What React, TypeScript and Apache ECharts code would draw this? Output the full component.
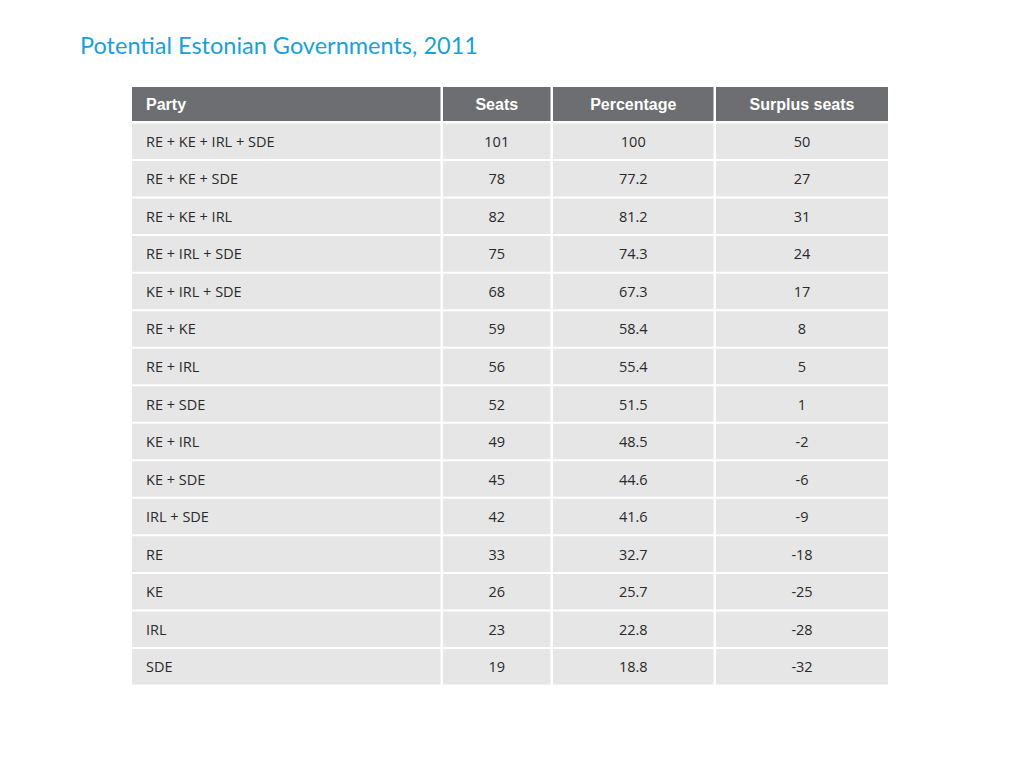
import React, { useEffect, useRef } from "react";
import * as echarts from "echarts";

const title = "Potential Estonian Governments, 2011";
const headers = ["Party", "Seats", "Percentage", "Surplus seats"];
const parties = [
  "RE + KE + IRL + SDE",
  "RE + KE + SDE",
  "RE + KE + IRL",
  "RE + IRL + SDE",
  "KE + IRL + SDE",
  "RE + KE",
  "RE + IRL",
  "RE + SDE",
  "KE + IRL",
  "KE + SDE",
  "IRL + SDE",
  "RE",
  "KE",
  "IRL",
  "SDE",
];
const seats = [101, 78, 82, 75, 68, 59, 56, 52, 49, 45, 42, 33, 26, 23, 19];
const percentage = [100, 77.2, 81.2, 74.3, 67.3, 58.4, 55.4, 51.5, 48.5, 44.6, 41.6, 32.7, 25.7, 22.8, 18.8];
const surplus = [50, 27, 31, 24, 17, 8, 5, 1, -2, -6, -9, -18, -25, -28, -32];

// layout (pixel offsets relative to table left edge)
const TABLE_LEFT = 132;
const TABLE_W = 756;
const COLS: [number, number][] = [
  [0, 308.5],
  [311, 418.5],
  [421, 581.5],
  [584, 756],
];
const BODY_FONT = "'Open Sans', sans-serif";

export default function App() {
  const ref = useRef<HTMLDivElement>(null);
  useEffect(() => {
    document.body.style.margin = "0";
    const chart = echarts.init(ref.current!, null, { renderer: "svg" });
    const headerY = 87;
    const headerH = 34;
    const headerGraphics: any[] = [];
    COLS.forEach(([a, b], j) => {
      headerGraphics.push({
        type: "rect",
        shape: { x: TABLE_LEFT + a, y: headerY, width: b - a, height: headerH },
        style: { fill: "#6d6e71" },
        silent: true,
      });
      headerGraphics.push({
        type: "text",
        x: j === 0 ? TABLE_LEFT + a + 14 : TABLE_LEFT + (a + b) / 2,
        y: headerY + headerH / 2,
        style: {
          text: headers[j],
          fill: "#ffffff",
          font: "bold 16px 'Liberation Sans', Arial, sans-serif",
          align: j === 0 ? "left" : "center",
          verticalAlign: "middle",
        },
        silent: true,
      });
    });

    chart.setOption({
      animation: false,
      graphic: [
        {
          type: "text",
          x: 80,
          y: 45,
          style: {
            text: title,
            fill: "#1a9fdc",
            font: "23.5px Lato, 'Open Sans', sans-serif",
            align: "left",
            verticalAlign: "middle",
          },
          silent: true,
        },
        ...headerGraphics,
      ],
      grid: { left: TABLE_LEFT, top: 123.5, width: TABLE_W, height: 563 },
      xAxis: { type: "value", min: 0, max: TABLE_W, show: false },
      yAxis: { type: "category", data: parties, inverse: true, show: false },
      series: [
        {
          type: "custom",
          encode: { y: 0 },
          data: parties.map((p, i) => [i, seats[i], percentage[i], surplus[i]]),
          renderItem: (params: any, api: any) => {
            const i = api.value(0);
            const c = api.coord([0, i]);
            const h = api.size([0, 1])[1];
            const top = c[1] - h / 2;
            const texts = [parties[i], String(seats[i]), String(percentage[i]), String(surplus[i])];
            const children: any[] = [];
            COLS.forEach(([a, b], j) => {
              const x0 = api.coord([a, i])[0];
              const x1 = api.coord([b, i])[0];
              children.push({
                type: "rect",
                shape: { x: x0, y: top, width: x1 - x0, height: h - 2 },
                style: { fill: "#e6e6e7" },
              });
              children.push({
                type: "text",
                x: j === 0 ? x0 + 14 : (x0 + x1) / 2,
                y: top + (h - 2) / 2,
                style: {
                  text: texts[j],
                  fill: "#2a2a2a",
                  font: "14.5px " + BODY_FONT,
                  align: j === 0 ? "left" : "center",
                  verticalAlign: "middle",
                },
              });
            });
            return { type: "group", children };
          },
          silent: true,
        },
      ],
    });
    return () => chart.dispose();
  }, []);
  return <div ref={ref} style={{ width: 1024, height: 769 }} />;
}
